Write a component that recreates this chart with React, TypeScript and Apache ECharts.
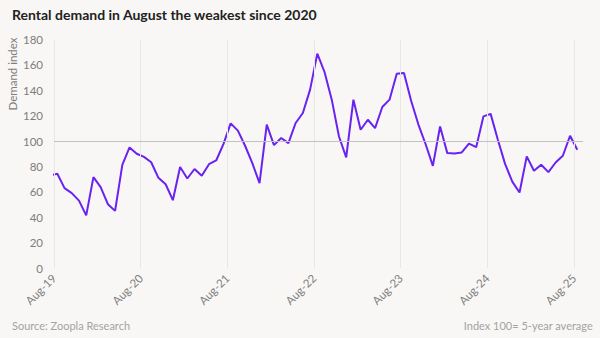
import React, { useEffect, useRef } from "react";
import * as echarts from "echarts";

// Monthly rental demand index, Jul-19 (clipped at axis start) to Aug-25
const demandIndex: number[] = [
  73, 74.2, 62.9, 59, 53.1, 41.5, 71.6, 63.7, 50.3, 45, 81.3, 95, 90,
  87.5, 83.3, 71, 66, 53.4, 79.5, 70.5, 78, 72.6, 81.8, 84.7, 97.6,
  113.9, 108.2, 96.3, 82.6, 66.8, 112.9, 96.8, 102.4, 98.4, 114.2, 122.1, 140.5,
  168.9, 154.4, 132.6, 103.6, 87.1, 132.6, 108.9, 116.8, 110.2, 126.8, 132.6, 153.1,
  153.7, 131.5, 113, 97.5, 80.5, 111.5, 90.5, 90.2, 91, 97.9, 95.2, 119.4,
  121.4, 101, 82, 68, 59.5, 87.9, 76.6, 81.3, 75.5, 83.1, 88.4, 104.2,
  93.1,
];
const firstMonthOffset = -1; // first value is one month before Aug-19
const midMonth = 0.46;
const xTickLabels: string[] = ["Aug-19", "Aug-20", "Aug-21", "Aug-22", "Aug-23", "Aug-24", "Aug-25"];
const monthsPerTick = 12;
const yTicks = { min: 0, max: 180, interval: 20 };
const referenceLevel = 100;

const title = "Rental demand in August the weakest since 2020";
const yAxisTitle = "Demand index";
const sourceNote = "Source: Zoopla Research";
const indexNote = "Index 100= 5-year average";

export default function App() {
  const ref = useRef<HTMLDivElement>(null);
  useEffect(() => {
    if (!ref.current) return;
    const chart = echarts.init(ref.current, null, { renderer: "svg" });
    const points = demandIndex.map((v, i) => [i + firstMonthOffset + midMonth, v]);
    const tickMonths = xTickLabels.map((_, i) => i * monthsPerTick);
    const font = "Lato, 'Open Sans', sans-serif";
    chart.setOption({
      animation: false,
      backgroundColor: "#f8f7f5",
      textStyle: { fontFamily: font },
      grid: { left: 54, right: 17, top: 39.5, bottom: 70 },
      xAxis: {
        type: "value",
        min: 0,
        max: 73.25,
        interval: monthsPerTick,
        axisLine: { show: false },
        axisTick: { show: false },
        splitLine: { show: false },
        axisLabel: {
          rotate: 45,
          color: "#808080",
          fontSize: 11.5,
          fontFamily: font,
          margin: 8,
          showMaxLabel: false,
          formatter: (v: number) => {
            const k = Math.round(v / monthsPerTick);
            return Math.abs(v - k * monthsPerTick) < 1e-6 && xTickLabels[k] ? xTickLabels[k] : "";
          },
        },
      },
      yAxis: {
        type: "value",
        min: yTicks.min,
        max: yTicks.max,
        interval: yTicks.interval,
        axisLine: { show: false },
        axisTick: { show: false },
        splitLine: { show: false },
        axisLabel: { color: "#7d7d7d", fontSize: 11.5, fontFamily: font, margin: 11 },
      },
      graphic: [
        {
          type: "text",
          left: 12,
          top: 7,
          style: { text: title, fill: "#222222", font: `bold 14px ${font}` },
        },
        {
          type: "text",
          x: 12.5,
          y: 74,
          rotation: Math.PI / 2,
          style: {
            text: yAxisTitle,
            fill: "#7d7d7d",
            font: `11.5px ${font}`,
            align: "center",
            verticalAlign: "middle",
          },
        },
        {
          type: "text",
          left: 12,
          top: 320,
          style: { text: sourceNote, fill: "#a3a3a3", font: `11px ${font}` },
        },
        {
          type: "text",
          right: 7,
          top: 320,
          style: { text: indexNote, fill: "#a3a3a3", font: `11px ${font}`, align: "right" },
        },
      ],
      series: [
        {
          type: "line",
          z: 1,
          data: points,
          showSymbol: false,
          lineStyle: { opacity: 0 },
          silent: true,
          markLine: {
            silent: true,
            symbol: "none",
            label: { show: false },
            data: [
              ...tickMonths.map((m) => ({ xAxis: m, lineStyle: { color: "#e9e7e4", width: 1, type: "solid" } })),
              { yAxis: referenceLevel, lineStyle: { color: "#c2c2c2", width: 1, type: "solid" } },
            ],
          },
        },
        {
          type: "line",
          z: 3,
          data: points,
          showSymbol: false,
          clip: true,
          lineStyle: { color: "#6a22f2", width: 2 },
        },
      ],
    });
    return () => chart.dispose();
  }, []);
  return <div ref={ref} style={{ position: "fixed", left: 0, top: 0, width: 600, height: 338 }} />;
}
